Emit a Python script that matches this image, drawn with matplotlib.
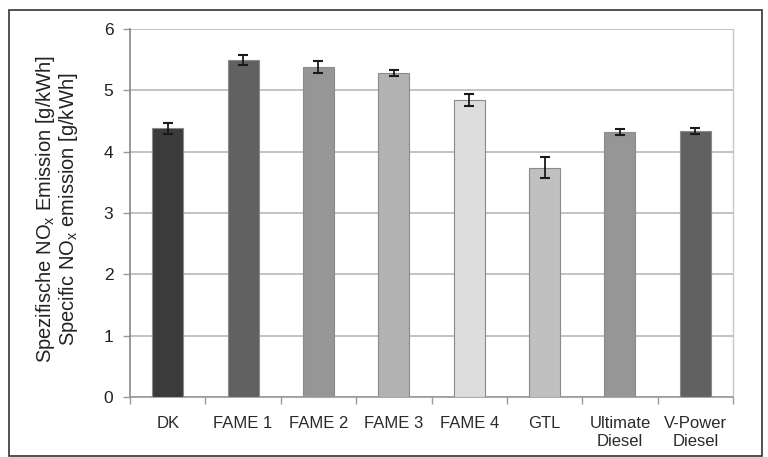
import matplotlib
matplotlib.use("Agg")
import matplotlib.pyplot as plt
from matplotlib.patches import Rectangle
import numpy as np

categories = ["DK", "FAME 1", "FAME 2", "FAME 3", "FAME 4", "GTL", "Ultimate\nDiesel", "V-Power\nDiesel"]
values = [4.38, 5.49, 5.38, 5.28, 4.84, 3.74, 4.32, 4.33]
errors = [0.09, 0.08, 0.10, 0.05, 0.10, 0.17, 0.05, 0.05]
colors = ["#3b3b3b", "#616161", "#969696", "#b3b3b3", "#dddddd", "#c0c0c0", "#969696", "#616161"]
yticks = [0, 1, 2, 3, 4, 5, 6]

plt.rcParams['font.family'] = ['Liberation Sans', 'DejaVu Sans']

W, H = 768, 457
fig = plt.figure(figsize=(W/100, H/100), dpi=100)
ax = fig.add_axes([130/W, 1-397/H, (733-130)/W, (397-29)/H])

x = np.arange(len(categories))
ax.bar(x, values, width=0.41, color=colors, edgecolor="#8a8a8a", linewidth=0.8, zorder=3)
ax.errorbar(x, values, yerr=errors, fmt="none", ecolor="#1a1a1a", elinewidth=1.3,
            capsize=3.5, capthick=1.5, zorder=4)

ax.set_xlim(-0.5, len(categories) - 0.5)
ax.set_ylim(0, 6)
ax.set_yticks(yticks)
ax.set_yticklabels([str(t) for t in yticks], fontsize=12.5, color="#222222")
ax.yaxis.grid(True, color="#b8b8b8", linewidth=1.2, zorder=0)
ax.set_axisbelow(True)

ax.set_xticks(x)
ax.set_xticklabels(categories, fontsize=12, color="#2a2a2a", linespacing=1.2)
ax.tick_params(axis="x", which="major", length=0, pad=14)
ax.set_xticks(np.arange(-0.5, len(categories)), minor=True)
ax.tick_params(axis="x", which="minor", length=5, color="#999999", width=1, direction="out")
ax.tick_params(axis="y", length=5, color="#999999", width=1, direction="out", pad=7)

ax.spines["top"].set_visible(False)
ax.spines["left"].set_color("#888888")
ax.spines["left"].set_linewidth(1.2)
ax.spines["bottom"].set_color("#999999")
ax.spines["bottom"].set_linewidth(1.2)
ax.spines["right"].set_color("#c8c8c8")
ax.spines["right"].set_linewidth(1.0)

fig.text(57/W, 1-209/H,
         "Spezifische NO$_\\mathregular{x}$ Emission [g/kWh]\nSpecific NO$_\\mathregular{x}$ emission [g/kWh]",
         fontsize=14.5, color="#222222", linespacing=1.0, rotation=90,
         ha="center", va="center", multialignment="center")

fig.patches.append(Rectangle((9/W, 1/H), (762-9)/W, (447-1)/H, transform=fig.transFigure,
                             fill=False, edgecolor="#333333", linewidth=1.2))

fig.savefig("out.png", dpi=100)
